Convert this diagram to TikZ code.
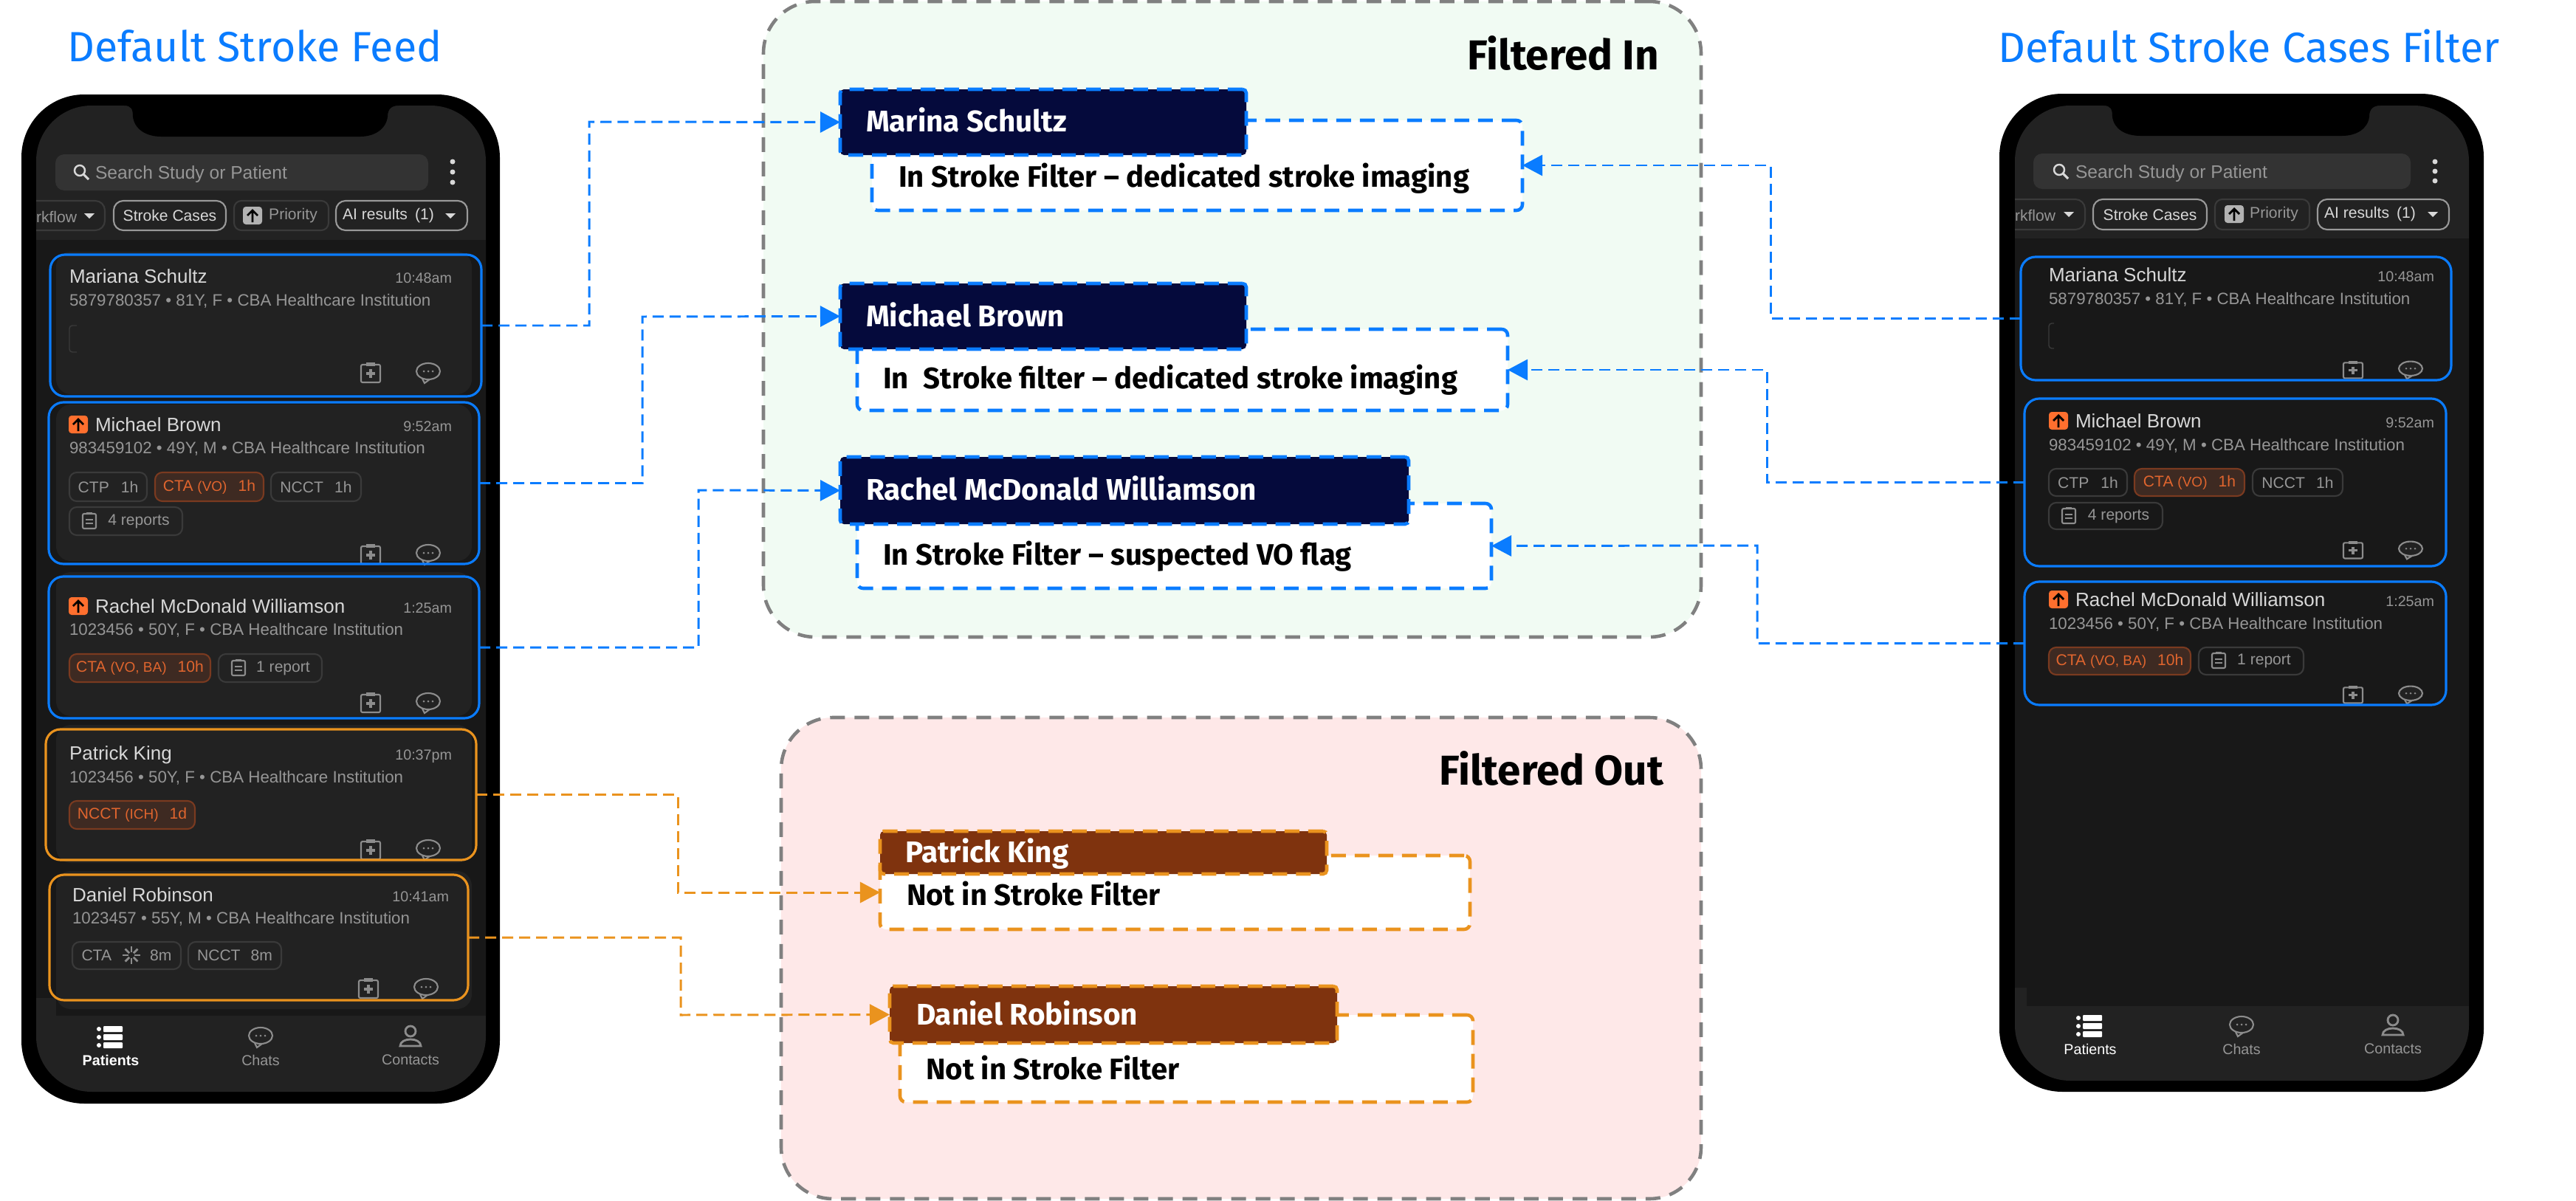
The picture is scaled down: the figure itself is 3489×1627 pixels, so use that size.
\documentclass[tikz,border=0pt]{standalone}
\usepackage{fontspec}
\setmainfont{Liberation Sans}
\newfontfamily\callfont{Fira Sans}
\usetikzlibrary{positioning,arrows.meta}

\definecolor{linkblue}{HTML}{0A7CFF}
\definecolor{linkorange}{HTML}{EA931E}
\definecolor{navyhead}{HTML}{050A3C}
\definecolor{brownhead}{HTML}{7F330E}
\definecolor{panelgreen}{HTML}{F1FBF3}
\definecolor{panelred}{HTML}{FEE8E8}
\definecolor{panelgrey}{HTML}{808080}
\definecolor{screen}{HTML}{222222}
\definecolor{listbg}{HTML}{181818}
\definecolor{searchbg}{HTML}{333333}
\definecolor{dimtext}{HTML}{969696}
\definecolor{nametext}{HTML}{D8D8D8}
\definecolor{hottext}{HTML}{E0652E}
\definecolor{hotfill}{HTML}{3E2A22}
\definecolor{hotedge}{HTML}{7A3A20}
\definecolor{dimedge}{HTML}{3A3A3A}
\definecolor{badge}{HTML}{FF6F2E}

\newcommand\fsz[1]{\fontsize{#1}{#1}\selectfont}
% box given by its edges in pixels: style, name, left, right, top, bottom, text
\newcommand\boxat[7]{\node[#1, minimum width={(#4-#3)*0.01cm}, minimum height={(#6-#5)*0.01cm}] (#2) at ({(#3+#4)/2},{(#5+#6)/2}) {#7};}
% patient row: id, name x, info x, time x, name y, info y, name, time, info
\newcommand\patient[9]{%
\node[patname] (#1-name) at (#2,#5) {#7};
\node[pattime] (#1-time) at (#4,#5) {#8};
\node[patinfo] (#1-info) at (#3,#6) {#9};}

\tikzset{
  every node/.style={inner sep=0pt, outer sep=0pt},
  panelbox/.style={rectangle, draw=panelgrey, line width=1.3pt, dash pattern=on 0.2cm off 0.13cm, rounded corners=0.7cm},
  headbox/.style={rectangle, line width=1.3pt, dash pattern=on 0.2cm off 0.12cm, rounded corners=0.05cm},
  notebox/.style={rectangle, fill=white, line width=1.3pt, dash pattern=on 0.2cm off 0.12cm, rounded corners=0.08cm},
  headtext/.style={anchor=mid west, text=white, font=\callfont\bfseries\fsz{11.5}},
  notetext/.style={anchor=mid west, text=black, font=\callfont\bfseries\fsz{11.4}},
  paneltitle/.style={anchor=mid east, text=black, font=\callfont\bfseries\fsz{16.1}},
  phonetitle/.style={text=linkblue, font=\callfont\fsz{16.3}},
  patname/.style={anchor=mid west, text=nametext, font=\fsz{7.4}},
  pattime/.style={anchor=mid east, text=dimtext, font=\fsz{5.6}},
  patinfo/.style={anchor=mid west, text=dimtext, font=\fsz{6.35}},
  cardline/.style={rectangle, line width=0.9pt, rounded corners=0.2cm},
  chipdim/.style={rectangle, draw=dimedge, line width=0.6pt, rounded corners=0.1cm, text=dimtext, font=\fsz{6}},
  chiphot/.style={rectangle, draw=hotedge, fill=hotfill, line width=0.6pt, rounded corners=0.1cm, text=hottext, font=\fsz{6}},
  chiplight/.style={rectangle, draw=gray!80, line width=0.6pt, rounded corners=0.13cm, text=nametext, font=\fsz{6}},
  navlabel/.style={text=dimtext, font=\fsz{5.6}},
  iconline/.style={draw=gray!90, line width=0.6pt},
  feedline/.style={line width=0.85pt, dash pattern=on 0.15cm off 0.08cm, -{Triangle[length=0.27cm,width=0.28cm]}},
  clipicon/.pic={
    \draw[iconline, rounded corners=0.02cm] (-13,-11) rectangle (13,13);
    \fill[gray!90] (-6,-14) rectangle (6,-9);
    \draw[iconline, line width=0.9pt] (-6,1) -- (6,1) (0,-5) -- (0,7);
  },
  chaticon/.pic={
    \draw[iconline] (-8,8) -- (-5,14) -- (2,9);
    \draw[iconline, fill=screen] (0,-2) ellipse [x radius=16, y radius=11];
    \foreach \dotx in {-6,0,6} \fill[gray!90] (\dotx,-2) circle [radius=1.5];
  },
  upbadge/.pic={
    \fill[badge, rounded corners=0.04cm] (-13,-12) rectangle (13,12);
    \draw[black, line width=0.8pt] (0,9) -- (0,-7) (-7,0) -- (0,-7) -- (7,0);
  },
  greybadge/.pic={
    \fill[gray!60, rounded corners=0.04cm] (-13,-12) rectangle (13,12);
    \draw[black, line width=0.8pt] (0,9) -- (0,-7) (-7,0) -- (0,-7) -- (7,0);
  },
  reporticon/.pic={
    \draw[iconline, rounded corners=0.02cm] (-9,-10) rectangle (9,10);
    \draw[iconline] (-5,-2) -- (5,-2) (-5,3) -- (5,3) (-4,-11) -- (4,-11);
  },
  spinicon/.pic={
    \foreach \spina in {0,45,...,315} \draw[iconline, line width=0.8pt] (\spina:4) -- (\spina:12);
  },
  searchicon/.pic={
    \draw[draw=nametext, line width=0.7pt] (-2,-2) circle [radius=7];
    \draw[draw=nametext, line width=0.9pt] (3,3) -- (10,10);
  },
  listicon/.pic={
    \foreach \rowy in {-11,0,11} {
      \fill[white] (-16,\rowy) circle [radius=3];
      \fill[white, rounded corners=0.01cm] (-10,{\rowy-4}) rectangle (16,{\rowy+4});
    }
  },
  personicon/.pic={
    \draw[iconline, line width=0.8pt] (0,-8) circle [radius=7];
    \draw[iconline, line width=0.8pt] (-14,12) .. controls (-14,0) and (14,0) .. (14,12) -- cycle;
  },
  droptri/.pic={\fill[nametext] (-7,-3) -- (7,-3) -- (0,4) -- cycle;}
}

\begin{document}
\begin{tikzpicture}[x=0.01cm, y=-0.01cm]
\useasboundingbox (0,0) rectangle (3489,1627);

% left phone
\fill[black, rounded corners=0.85cm] (29,128) rectangle (677,1495);
\fill[screen, rounded corners=0.75cm] (49,143) rectangle (658,1479);
\fill[listbg] (76,325) rectangle (658,1376);
\fill[listbg] (49,325) rectangle (76,1352);
\fill[black] (168,143) .. controls (178,143) and (180,148) .. (180,158) .. controls (182,175) and (198,185) .. (218,185) -- (488,185) .. controls (507,185) and (523,175) .. (525,158) .. controls (525,148) and (530,143) .. (540,143) -- cycle;
\node[phonetitle] (feedtitle) at (345,62) {Default Stroke Feed};
\fill[searchbg, rounded corners=0.12cm] (75,209) rectangle (580,258);
\pic at (110,233) {searchicon};
\node[anchor=mid west, text=dimtext, font=\fsz{7}] (feedsearch) at (129,233) {Search Study or Patient};
\foreach \doty in {219,233,247} \fill[nametext] (613,\doty) circle [radius=3.5];
\node[anchor=mid west, text=dimtext, font=\fsz{6}] (feedwork) at (49,292) {rkflow};
\pic at (121,292) {droptri};
\draw[dimedge, line width=0.6pt, rounded corners=0.13cm] (49,272) -- (142,272) -- (142,312) -- (49,312);
\boxat{chiplight}{feedstroke}{154}{306}{272}{312}{Stroke Cases}
\boxat{chipdim}{feedprio}{317}{445}{272}{312}{\hspace{0.32cm}Priority}
\pic at (342,292) {greybadge};
\boxat{chiplight}{feedai}{455}{633}{272}{312}{AI results\hspace{0.1cm}(1)\kern0.36cm}
\pic at (610,292) {droptri};

% card backs
\foreach \ctop/\cbot in {341/534, 548/760, 775/970, 982/1169, 1180/1367}
  \fill[screen, rounded corners=0.2cm] (76,\ctop) rectangle (639,\cbot);
\foreach \ctop/\cbot in {339/528, 538/765, 779/963}
  \fill[screen, rounded corners=0.2cm] (2747,\ctop) rectangle (3325,\cbot);

% left phone rows
\patient{feeda}{94}{94}{612}{374}{405}{Mariana Schultz}{10:48am}{5879780357 • 81Y, F • CBA Healthcare Institution}
\draw[dimedge, rounded corners=0.04cm] (104,441) -- (94,441) -- (94,477) -- (104,477);
\patient{feedb}{129}{94}{612}{575}{605}{Michael Brown}{9:52am}{983459102 • 49Y, M • CBA Healthcare Institution}
\pic at (106,575) {upbadge};
\boxat{chipdim}{feedb-ctp}{94}{199}{640}{679}{CTP\hspace{0.16cm}1h}
\boxat{chiphot}{feedb-cta}{210}{357}{640}{679}{CTA {\fsz{5.4}(VO)}\hspace{0.15cm}1h}
\boxat{chipdim}{feedb-ncct}{367}{489}{640}{679}{NCCT\hspace{0.15cm}1h}
\boxat{chipdim}{feedb-rep}{94}{247}{687}{725}{\hspace{0.35cm}4 reports}
\pic at (121,706) {reporticon};
\patient{feedc}{129}{94}{612}{821}{851}{Rachel McDonald Williamson}{1:25am}{1023456 • 50Y, F • CBA Healthcare Institution}
\pic at (106,821) {upbadge};
\boxat{chiphot}{feedc-cta}{94}{285}{886}{924}{CTA {\fsz{5.4}(VO, BA)}\hspace{0.15cm}10h}
\boxat{chipdim}{feedc-rep}{296}{436}{886}{924}{\hspace{0.35cm}1 report}
\pic at (323,905) {reporticon};
\patient{feedd}{94}{94}{612}{1020}{1051}{Patrick King}{10:37pm}{1023456 • 50Y, F • CBA Healthcare Institution}
\boxat{chiphot}{feedd-ncct}{94}{264}{1085}{1123}{NCCT {\fsz{5.4}(ICH)}\hspace{0.15cm}1d}
\patient{feede}{98}{98}{608}{1212}{1242}{Daniel Robinson}{10:41am}{1023457 • 55Y, M • CBA Healthcare Institution}
\boxat{chipdim}{feede-cta}{98}{245}{1276}{1313}{CTA\hspace{0.52cm}8m}
\pic at (178,1294) {spinicon};
\boxat{chipdim}{feede-ncct}{255}{381}{1276}{1313}{NCCT\hspace{0.14cm}8m}
\foreach \ix/\iy in {502/505, 502/751, 502/952, 502/1151, 499/1339} {
  \pic at (\ix,\iy) {clipicon};
  \pic at ({\ix+78},\iy) {chaticon};
}
\boxat{cardline, draw=linkblue}{feeda}{68}{652}{345}{537}{}
\boxat{cardline, draw=linkblue}{feedb}{66}{649}{545}{764}{}
\boxat{cardline, draw=linkblue}{feedc}{66}{649}{781}{973}{}
\boxat{cardline, draw=linkorange}{feedd}{62}{645}{988}{1165}{}
\boxat{cardline, draw=linkorange}{feede}{67}{634}{1185}{1355}{}
\pic at (150,1405) {listicon};
\pic at (353,1405) {chaticon};
\pic at (556,1405) {personicon};
\node[navlabel, text=white, font=\bfseries\fsz{5.6}] (feednavp) at (150,1436) {Patients};
\node[navlabel] (feednavc) at (353,1436) {Chats};
\node[navlabel] (feednavk) at (556,1436) {Contacts};

% right phone
\fill[black, rounded corners=0.85cm] (2708,127) rectangle (3364,1479);
\fill[screen, rounded corners=0.75cm] (2729,143) rectangle (3344,1464);
\fill[listbg] (2745,323) rectangle (3344,1363);
\fill[listbg] (2729,323) rectangle (2745,1338);
\fill[black] (2849,143) .. controls (2859,143) and (2861,148) .. (2861,158) .. controls (2863,175) and (2879,184) .. (2899,184) -- (3172,184) .. controls (3191,184) and (3207,175) .. (3209,158) .. controls (3209,148) and (3214,143) .. (3224,143) -- cycle;
\node[phonetitle] (casestitle) at (3046,62) {Default Stroke Cases Filter};
\fill[searchbg, rounded corners=0.12cm] (2754,208) rectangle (3265,256);
\pic at (2791,232) {searchicon};
\node[anchor=mid west, text=dimtext, font=\fsz{7}] (casessearch) at (2811,232) {Search Study or Patient};
\foreach \doty in {219,232,245} \fill[nametext] (3298,\doty) circle [radius=3.5];
\node[anchor=mid west, text=dimtext, font=\fsz{6}] (caseswork) at (2729,290) {rkflow};
\pic at (2802,290) {droptri};
\draw[dimedge, line width=0.6pt, rounded corners=0.13cm] (2729,270) -- (2824,270) -- (2824,311) -- (2729,311);
\boxat{chiplight}{casesstroke}{2835}{2989}{270}{311}{Stroke Cases}
\boxat{chipdim}{casesprio}{3000}{3128}{270}{311}{\hspace{0.32cm}Priority}
\pic at (3026,290) {greybadge};
\boxat{chiplight}{casesai}{3139}{3317}{270}{311}{AI results\hspace{0.1cm}(1)\kern0.36cm}
\pic at (3295,290) {droptri};
\patient{casesa}{2775}{2775}{3297}{372}{403}{Mariana Schultz}{10:48am}{5879780357 • 81Y, F • CBA Healthcare Institution}
\draw[dimedge, rounded corners=0.04cm] (2782,438) -- (2775,438) -- (2775,472) -- (2782,472);
\patient{casesb}{2811}{2775}{3297}{570}{601}{Michael Brown}{9:52am}{983459102 • 49Y, M • CBA Healthcare Institution}
\pic at (2788,570) {upbadge};
\boxat{chipdim}{casesb-ctp}{2775}{2881}{635}{672}{CTP\hspace{0.16cm}1h}
\boxat{chiphot}{casesb-cta}{2891}{3040}{635}{672}{CTA {\fsz{5.4}(VO)}\hspace{0.15cm}1h}
\boxat{chipdim}{casesb-ncct}{3051}{3173}{635}{672}{NCCT\hspace{0.15cm}1h}
\boxat{chipdim}{casesb-rep}{2775}{2929}{681}{717}{\hspace{0.35cm}4 reports}
\pic at (2802,699) {reporticon};
\patient{casesc}{2811}{2775}{3297}{812}{843}{Rachel McDonald Williamson}{1:25am}{1023456 • 50Y, F • CBA Healthcare Institution}
\pic at (2788,812) {upbadge};
\boxat{chiphot}{casesc-cta}{2775}{2967}{877}{914}{CTA {\fsz{5.4}(VO, BA)}\hspace{0.15cm}10h}
\boxat{chipdim}{casesc-rep}{2978}{3120}{877}{914}{\hspace{0.35cm}1 report}
\pic at (3005,895) {reporticon};
\foreach \iy in {501,745,941} {
  \pic[yscale=0.88] at (3187,\iy) {clipicon};
  \pic[yscale=0.88] at (3265,\iy) {chaticon};
}
\boxat{cardline, draw=linkblue}{casesa}{2737}{3320}{348}{515}{}
\boxat{cardline, draw=linkblue}{casesb}{2742}{3313}{540}{767}{}
\boxat{cardline, draw=linkblue}{casesc}{2742}{3313}{788}{955}{}
\pic at (2831,1390) {listicon};
\pic at (3036,1390) {chaticon};
\pic at (3241,1390) {personicon};
\node[navlabel, text=white] (casesnavp) at (2831,1421) {Patients};
\node[navlabel] (casesnavc) at (3036,1421) {Chats};
\node[navlabel] (casesnavk) at (3241,1421) {Contacts};

% panels
\boxat{panelbox, fill=panelgreen}{panelin}{1034}{2304}{2}{863}{}
\boxat{panelbox, fill=panelred}{panelout}{1058}{2304}{972}{1624}{}
\node[paneltitle] (intitle) at (2247,85) {Filtered In};
\node[paneltitle] (outtitle) at (2253,1054) {Filtered Out};

% notes behind the headers
\boxat{notebox, draw=linkblue}{notea}{1181}{2062}{163}{285}{}
\boxat{notebox, draw=linkblue}{noteb}{1161}{2042}{446}{556}{}
\boxat{notebox, draw=linkblue}{notec}{1161}{2020}{682}{797}{}
\boxat{notebox, draw=linkorange}{noted}{1192}{1991}{1159}{1259}{}
\boxat{notebox, draw=linkorange}{notee}{1219}{1995}{1375}{1493}{}
\boxat{headbox, draw=linkblue, fill=navyhead}{heada}{1138}{1688}{121}{210}{}
\boxat{headbox, draw=linkblue, fill=navyhead}{headb}{1138}{1688}{384}{473}{}
\boxat{headbox, draw=linkblue, fill=navyhead}{headc}{1138}{1908}{619}{710}{}
\boxat{headbox, draw=linkorange, fill=brownhead}{headd}{1192}{1797}{1126}{1184}{}
\boxat{headbox, draw=linkorange, fill=brownhead}{heade}{1205}{1811}{1336}{1413}{}
\node[headtext] (heada-t) at (1173,169) {Marina Schultz};
\node[headtext] (headb-t) at (1173,433) {Michael Brown};
\node[headtext] (headc-t) at (1173,668) {Rachel McDonald Williamson};
\node[headtext] (headd-t) at (1226,1159) {Patrick King};
\node[headtext] (heade-t) at (1241,1379) {Daniel Robinson};
\node[notetext] (notea-t) at (1217,244) {In Stroke Filter – dedicated stroke imaging};
\node[notetext] (noteb-t) at (1196,517) {In\hspace{0.5em}Stroke filter – dedicated stroke imaging};
\node[notetext] (notec-t) at (1196,756) {In Stroke Filter – suspected VO flag};
\node[notetext] (noted-t) at (1228,1217) {Not in Stroke Filter};
\node[notetext] (notee-t) at (1254,1453) {Not in Stroke Filter};

% bends of the connectors
\coordinate (benda) at (798,165);
\coordinate (bendb) at (870,429);
\coordinate (bendc) at (946,664);
\coordinate (bendd) at (918,1209);
\coordinate (bende) at (922,1375);
\coordinate (bendf) at (2398,224);
\coordinate (bendg) at (2393,501);
\coordinate (bendh) at (2380,739);
% feed to headers
\draw[feedline, draw=linkblue] (feeda.east) -| (benda) -- (heada.west);
\draw[feedline, draw=linkblue] (feedb.east) -| (bendb) -- (headb.west);
\draw[feedline, draw=linkblue] (feedc.east) -| (bendc) -- (headc.west);
\draw[feedline, draw=linkorange] (feedd.east) -| (bendd) -- (noted.west);
\draw[feedline, draw=linkorange] (feede.east) -| (bende) -- (heade.west);
% filter to notes
\draw[feedline, draw=linkblue] (casesa.west) -| (bendf) -- (notea.east);
\draw[feedline, draw=linkblue] (casesb.west) -| (bendg) -- (noteb.east);
\draw[feedline, draw=linkblue] (casesc.west) -| (bendh) -- (notec.east);
\end{tikzpicture}
\end{document}
